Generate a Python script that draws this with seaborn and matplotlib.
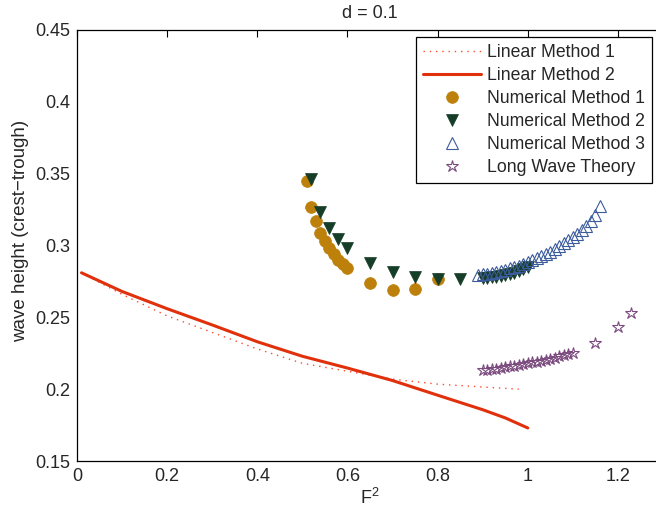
import matplotlib
matplotlib.use("Agg")
import matplotlib.pyplot as plt
import seaborn as sns

# ---- data -------------------------------------------------------------
lin1_x = [0.01, 0.10, 0.20, 0.30, 0.40, 0.50, 0.60, 0.70, 0.80, 0.90, 0.98]
lin1_y = [0.281, 0.266, 0.251, 0.2395, 0.228, 0.218, 0.2125, 0.207, 0.2035, 0.2015, 0.200]

lin2_x = [0.01, 0.10, 0.20, 0.30, 0.40, 0.50, 0.60, 0.70, 0.80, 0.90, 0.95, 1.00]
lin2_y = [0.281, 0.268, 0.256, 0.2447, 0.233, 0.2229, 0.2147, 0.206, 0.1958, 0.1857, 0.180, 0.173]

num1_x = [0.51, 0.52, 0.53, 0.54, 0.55, 0.56, 0.57, 0.58, 0.59, 0.60, 0.65, 0.70, 0.75, 0.80]
num1_y = [0.345, 0.327, 0.317, 0.309, 0.303, 0.298, 0.294, 0.290, 0.287, 0.284,
          0.274, 0.269, 0.270, 0.277]

num2_x = [0.52, 0.54, 0.56, 0.58, 0.60, 0.65, 0.70, 0.75, 0.80, 0.85,
          0.90, 0.91, 0.92, 0.93, 0.94, 0.95, 0.96, 0.97, 0.98, 0.99, 1.00]
num2_y = [0.346, 0.3235, 0.312, 0.3043, 0.298, 0.288, 0.2817, 0.2782, 0.277, 0.2764,
          0.2772, 0.2775, 0.2778, 0.2782, 0.2788, 0.2795, 0.2803, 0.2812, 0.2822, 0.2835, 0.2852]

num3_x = [0.89, 0.90, 0.91, 0.92, 0.93, 0.94, 0.95, 0.96, 0.97, 0.98, 0.99, 1.00,
          1.01, 1.02, 1.03, 1.04, 1.05, 1.06, 1.07, 1.08, 1.09, 1.10, 1.11, 1.12,
          1.13, 1.14, 1.15, 1.16]
num3_y = [0.2795, 0.2800, 0.2805, 0.2810, 0.2817, 0.2824, 0.2832, 0.2841, 0.2850, 0.2860,
          0.2871, 0.2883, 0.2896, 0.2910, 0.2925, 0.2941, 0.2958, 0.2976, 0.2995, 0.3015,
          0.3036, 0.3058, 0.3081, 0.3105, 0.3135, 0.3170, 0.3215, 0.3275]

lwt_x = [0.90, 0.91, 0.92, 0.93, 0.94, 0.95, 0.96, 0.97, 0.98, 0.99, 1.00,
         1.01, 1.02, 1.03, 1.04, 1.05, 1.06, 1.07, 1.08, 1.09, 1.10,
         1.15, 1.20, 1.23]
lwt_y = [0.2130, 0.2134, 0.2138, 0.2143, 0.2148, 0.2153, 0.2158, 0.2163, 0.2168, 0.2174,
         0.2180, 0.2186, 0.2192, 0.2199, 0.2206, 0.2213, 0.2220, 0.2228, 0.2236, 0.2244,
         0.2252, 0.2318, 0.2430, 0.2527]

x_ticks = [0, 0.2, 0.4, 0.6, 0.8, 1.0, 1.2]
x_tick_labels = ["0", "0.2", "0.4", "0.6", "0.8", "1", "1.2"]
y_ticks = [0.15, 0.20, 0.25, 0.30, 0.35, 0.40, 0.45]
y_tick_labels = ["0.15", "0.2", "0.25", "0.3", "0.35", "0.4", "0.45"]

# ---- style ------------------------------------------------------------
sns.set_style("white")
plt.rcParams["font.family"] = ["Liberation Sans", "DejaVu Sans"]
plt.rcParams["mathtext.default"] = "regular"
plt.rcParams["xtick.direction"] = "in"
plt.rcParams["ytick.direction"] = "in"

fig = plt.figure(figsize=(6.56, 5.16), dpi=100)
ax = fig.add_axes([77 / 656, 55 / 516, 586 / 656, 431 / 516])

# ---- lines -------------------------------------------------------------
sns.lineplot(x=lin1_x, y=lin1_y, ax=ax, color="#ff4a2a", linestyle=(0, (1, 3.5)),
             linewidth=1.0, errorbar=None, label="Linear Method 1")
sns.lineplot(x=lin2_x, y=lin2_y, ax=ax, color="#e0300c", linewidth=2.2,
             errorbar=None, label="Linear Method 2")

# ---- markers -----------------------------------------------------------
sns.lineplot(x=num1_x, y=num1_y, ax=ax, color="#bd800a", linestyle="none",
             marker="o", markersize=8.5, markeredgecolor="#bd800a",
             markeredgewidth=0.5, errorbar=None, label="Numerical Method 1")
sns.lineplot(x=num2_x, y=num2_y, ax=ax, color="#163d28", linestyle="none",
             marker="v", markersize=8, markeredgecolor="#163d28",
             markeredgewidth=0.5, errorbar=None, label="Numerical Method 2")
sns.lineplot(x=num3_x, y=num3_y, ax=ax, color="#3b5b9c", linestyle="none",
             marker="^", markersize=8, markerfacecolor="none",
             markeredgecolor="#3b5b9c", markeredgewidth=0.8,
             errorbar=None, label="Numerical Method 3")
sns.lineplot(x=lwt_x, y=lwt_y, ax=ax, color="#7b4a7e", linestyle="none",
             marker="*", markersize=9, markerfacecolor="none",
             markeredgecolor="#7b4a7e", markeredgewidth=0.8,
             errorbar=None, label="Long Wave Theory")

# ---- axes --------------------------------------------------------------
ax.set_xlim(0, 1.3)
ax.set_ylim(0.15, 0.45)
ax.set_xticks(x_ticks)
ax.set_xticklabels(x_tick_labels)
ax.set_yticks(y_ticks)
ax.set_yticklabels(y_tick_labels)
ax.tick_params(axis="both", which="both", top=True, right=True, length=5,
               width=0.8, color="black", labelsize=13, pad=5)
for spine in ax.spines.values():
    spine.set_color("black")
    spine.set_linewidth(0.9)

ax.set_title("d = 0.1", fontsize=13, pad=9)
ax.set_xlabel("F$^2$", fontsize=13, labelpad=2)
ax.set_ylabel("wave height (crest\u2212trough)", fontsize=13.5)
ax.yaxis.set_label_coords(-0.082, 0.534)

leg = ax.legend(loc="upper right", bbox_to_anchor=(652 / 656, 1 - 37 / 516),
                bbox_transform=fig.transFigure, borderaxespad=0,
                fontsize=12.7, frameon=True, fancybox=False, framealpha=1,
                edgecolor="black", handlelength=3.3, handletextpad=0.35,
                labelspacing=0.34, borderpad=0.4)
leg.get_frame().set_linewidth(0.9)

fig.savefig("out.png", dpi=100)
